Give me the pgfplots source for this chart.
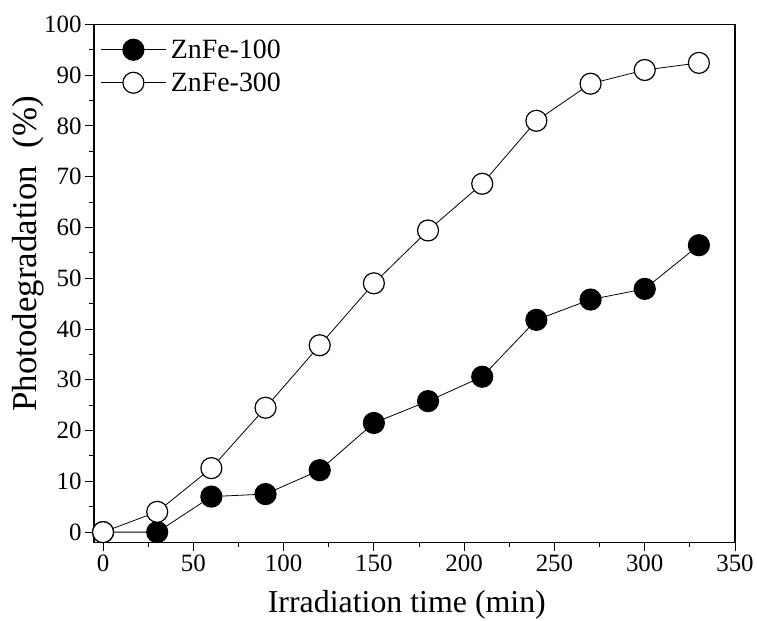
\documentclass[border=0pt]{standalone}
\usepackage{fontspec}
\setmainfont{Liberation Serif}
\usepackage{pgfplots}
\pgfplotsset{compat=1.18}
\begin{document}
\begin{tikzpicture}
\begin{axis}[
  name=ax,
  scale only axis,
  width=641bp, height=518bp,
  xmin=-5, xmax=350, ymin=-2, ymax=100,
  xtick={0,50,...,350}, ytick={0,10,...,100},
  minor x tick num=1, minor y tick num=1,
  tick align=outside,
  xtick pos=bottom, ytick pos=left,
  major tick length=9bp, minor tick length=5bp,
  every tick/.style={black, line width=1pt},
  axis line style={line width=1.2pt},
  /pgf/number format/assume math mode=true,
  ticklabel style={font=\fontsize{25}{30}\selectfont},
  xlabel={Irradiation time (min)},
  ylabel={Photodegradation\ \ (\%)},
  xlabel style={font=\fontsize{32}{38}\selectfont, at={(axis description cs:0.488,0)}, anchor=north, yshift=-45bp},
  ylabel style={font=\fontsize{35}{42}\selectfont, at={(axis description cs:-0.103,0.557)}, anchor=center},
  legend style={at={(axis description cs:0.006,0.919)}, anchor=west, draw=none, fill=none,
    font=\fontsize{28}{33}\selectfont, row sep=12bp,
    nodes={inner xsep=4bp, inner ysep=0bp}},
  legend cell align=left,
  legend image code/.code={\draw[mark repeat=2,mark phase=2,#1] plot coordinates {(0bp,0bp) (32bp,0bp) (65bp,0bp)};},
]
\addplot[black, line width=0.8pt, mark=*, mark size=10.5bp, mark options={fill=black, line width=1.2pt}]
  coordinates {(0,0) (30,0) (60,7) (90,7.5) (120,12.2) (150,21.5) (180,25.8) (210,30.6) (240,41.8) (270,45.8) (300,47.9) (330,56.5)};
\addlegendentry{ZnFe-100}
\addplot[black, line width=0.8pt, mark=*, mark size=10.5bp, mark options={fill=white, line width=1.2pt}]
  coordinates {(0,0) (30,4) (60,12.6) (90,24.5) (120,36.8) (150,49) (180,59.4) (210,68.6) (240,81) (270,88.3) (300,91) (330,92.4)};
\addlegendentry{ZnFe-300}
\end{axis}
\pgfresetboundingbox
\path ([shift={(-94bp,-78.7bp)}]ax.south west) rectangle ([shift={(663bp,542.3bp)}]ax.south west);
\end{tikzpicture}
\end{document}
